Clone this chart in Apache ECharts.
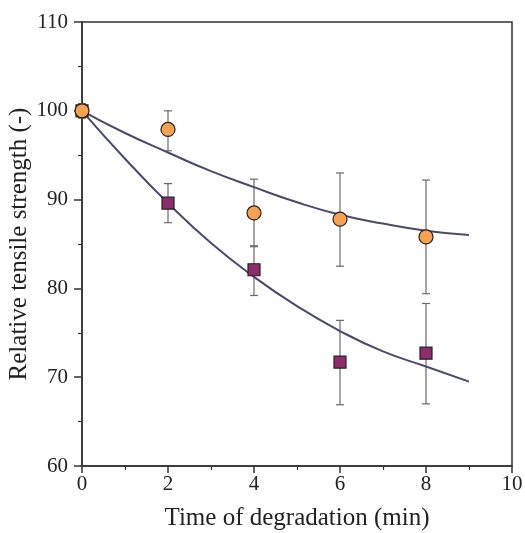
<!DOCTYPE html>
<html>
<head>
<meta charset="utf-8">
<script src="https://cdn.jsdelivr.net/npm/echarts@6/dist/echarts.min.js"></script>
<style>
  html, body { margin: 0; padding: 0; background: #fff; }
  #chart { width: 525px; height: 533px; }
</style>
</head>
<body>
<div id="chart"></div>
<script>
// measured points
const times = [0, 2, 4, 6, 8]
const orangeMean = [100, 97.9, 88.5, 87.8, 85.8]
const orangeLow = [99.2, 95.5, 84.8, 82.5, 79.4]
const orangeHigh = [100.8, 100.0, 92.3, 93.0, 92.2]
const purpleMean = [100, 89.6, 82.1, 71.7, 72.7]
const purpleLow = [99.2, 87.4, 79.2, 66.9, 67.0]
const purpleHigh = [100.8, 91.8, 84.7, 76.4, 78.3]

// fitted curves
const fitX = [0, 1, 2, 3, 4, 5, 6, 7, 8, 9]
const fitOrange = [100, 97.5, 95.3, 93.2, 91.4, 89.7, 88.3, 87.3, 86.5, 86.0]
const fitPurple = [100, 94.6, 89.6, 85.1, 81.3, 78.0, 75.2, 72.9, 71.2, 69.5]

const xTicks = [0, 2, 4, 6, 8, 10]
const yTicks = [60, 70, 80, 90, 100, 110]

const chart = echarts.init(document.getElementById('chart'))

const zip = (xs, ys) => xs.map((x, i) => [x, ys[i]])

function errorBars(lo, hi) {
  return {
    type: 'custom',
    z: 1,
    silent: true,
    data: times.map((t, i) => [t, lo[i], hi[i]]),
    renderItem: (params, api) => {
      const top = api.coord([api.value(0), api.value(2)])
      const bot = api.coord([api.value(0), api.value(1)])
      const w = 4
      const style = { stroke: '#6a6a6a', lineWidth: 1.2 }
      return {
        type: 'group',
        children: [
          { type: 'line', shape: { x1: top[0], y1: top[1], x2: bot[0], y2: bot[1] }, style },
          { type: 'line', shape: { x1: top[0] - w, y1: top[1], x2: top[0] + w, y2: top[1] }, style },
          { type: 'line', shape: { x1: bot[0] - w, y1: bot[1], x2: bot[0] + w, y2: bot[1] }, style }
        ]
      }
    }
  }
}

const font = '"Liberation Serif", "DejaVu Serif", serif'

const option = {
  animation: false,
  grid: {
    left: 82, right: 13, top: 22, bottom: 67,
    containLabel: false,
    outerBoundsMode: 'none',
    show: true, borderColor: '#333', borderWidth: 1.5
  },
  xAxis: {
    type: 'value',
    min: 0, max: 10, interval: 2,
    name: 'Time of degradation (min)',
    nameLocation: 'middle',
    nameGap: 40,
    nameMoveOverlap: false,
    nameTextStyle: { fontFamily: font, fontSize: 25, color: '#222' },
    axisLine: { lineStyle: { color: '#333', width: 1.5 } },
    axisTick: { show: true, inside: false, length: 7, lineStyle: { color: '#333', width: 1.5 } },
    minorTick: { show: true, splitNumber: 2, length: 4, lineStyle: { color: '#333', width: 1.2 } },
    axisLabel: {
      fontFamily: font, fontSize: 21, color: '#222', margin: 8,
      formatter: v => xTicks.includes(v) ? String(v) : ''
    },
    splitLine: { show: false }
  },
  yAxis: {
    type: 'value',
    min: 60, max: 110, interval: 10,
    name: 'Relative tensile strength (-)',
    nameLocation: 'middle',
    nameGap: 50,
    nameMoveOverlap: false,
    nameTextStyle: { fontFamily: font, fontSize: 25, color: '#222' },
    axisLine: { show: true, lineStyle: { color: '#333', width: 1.5 } },
    axisTick: { show: true, inside: false, length: 8, lineStyle: { color: '#333', width: 1.5 } },
    minorTick: { show: true, splitNumber: 2, length: 4, lineStyle: { color: '#333', width: 1.2 } },
    axisLabel: {
      fontFamily: font, fontSize: 21, color: '#222', margin: 14,
      formatter: v => yTicks.includes(v) ? String(v) : ''
    },
    splitLine: { show: false }
  },
  series: [
    errorBars(orangeLow, orangeHigh),
    errorBars(purpleLow, purpleHigh),
    {
      type: 'line',
      smooth: true,
      showSymbol: false,
      z: 2,
      data: zip(fitX, fitOrange),
      lineStyle: { color: '#4a4a6c', width: 2 }
    },
    {
      type: 'line',
      smooth: true,
      showSymbol: false,
      z: 2,
      data: zip(fitX, fitPurple),
      lineStyle: { color: '#4a4a6c', width: 2 }
    },
    {
      type: 'scatter',
      z: 3,
      symbol: 'rect',
      symbolSize: 12,
      data: zip(times, purpleMean),
      itemStyle: { color: '#8e2c6e', borderColor: '#222', borderWidth: 1.2, opacity: 1 }
    },
    {
      type: 'scatter',
      z: 4,
      symbol: 'circle',
      symbolSize: 14,
      data: zip(times, orangeMean),
      itemStyle: { color: '#f8a24f', borderColor: '#222', borderWidth: 1.2, opacity: 1 }
    }
  ]
}

chart.setOption(option)
</script>
</body>
</html>
